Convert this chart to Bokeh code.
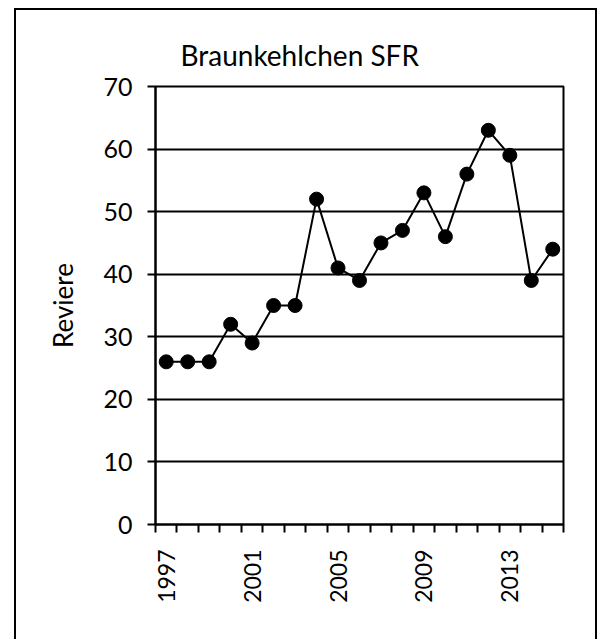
from math import pi
from bokeh.plotting import figure
from bokeh.models import Range1d, FixedTicker, InlineStyleSheet, Title
from bokeh.embed import file_html
from bokeh.resources import INLINE

# ---- data ----
years = [1997, 1998, 1999, 2000, 2001, 2002, 2003, 2004, 2005, 2006,
         2007, 2008, 2009, 2010, 2011, 2012, 2013, 2014, 2015]
reviere = [26, 26, 26, 32, 29, 35, 35, 52, 41, 39,
           45, 47, 53, 46, 56, 63, 59, 39, 44]
x_tick_labels = [1997, 2001, 2005, 2009, 2013]
y_ticks = [0, 10, 20, 30, 40, 50, 60, 70]
title_text = "Braunkehlchen SFR"
y_label = "Reviere"

FONT = "Lato"

x_lo = years[0] - 0.5
x_hi = years[-1] + 0.5

p = figure(width=597, height=639, output_backend="svg", toolbar_location=None,
           x_range=Range1d(x_lo, x_hi), y_range=Range1d(y_ticks[0], y_ticks[-1]),
           min_border_left=155, min_border_right=34,
           min_border_top=86, min_border_bottom=115)

p.background_fill_color = "white"
p.border_fill_color = "white"
p.outline_line_color = "black"
p.outline_line_width = 2

# outer chart border drawn on top of the canvas via CSS
p.stylesheets = [InlineStyleSheet(css="""
:host::after {
  content: "";
  position: absolute;
  left: 14px;
  top: 8px;
  width: 579px;
  height: 630px;
  border: 2px solid black;
  box-sizing: content-box;
  pointer-events: none;
  z-index: 10;
}
""")]

# title
p.title.text = title_text
p.title.align = "left"
p.title.offset = 25
p.title.standoff = 29
p.title.text_font = FONT
p.title.text_font_size = "28px"
p.title.text_font_style = "normal"
p.title.text_color = "black"

# grid
p.xgrid.visible = False
p.ygrid.grid_line_color = "black"
p.ygrid.grid_line_width = 2
p.ygrid.grid_line_alpha = 1.0

# x axis: labels at category centers, tick marks between categories
xa = p.xaxis[0]
boundaries = [y - 0.5 for y in years] + [years[-1] + 0.5]
xa.ticker = FixedTicker(ticks=x_tick_labels, minor_ticks=boundaries)
xa.major_label_overrides = {t: str(t) for t in x_tick_labels}
xa.major_tick_out = 0
xa.major_tick_in = 0
xa.minor_tick_out = 8
xa.minor_tick_in = 0
xa.minor_tick_line_color = "black"
xa.minor_tick_line_width = 2
xa.axis_line_color = "black"
xa.axis_line_width = 2
xa.major_label_orientation = pi / 2
xa.major_label_standoff = 17
xa.major_label_text_font = FONT
xa.major_label_text_font_size = "23px"
xa.major_label_text_color = "black"

# y axis
ya = p.yaxis[0]
ya.ticker = FixedTicker(ticks=y_ticks, minor_ticks=[])
ya.major_tick_out = 8
ya.major_tick_in = 0
ya.major_tick_line_color = "black"
ya.major_tick_line_width = 2
ya.minor_tick_out = 0
ya.minor_tick_in = 0
ya.axis_line_color = "black"
ya.axis_line_width = 2
ya.major_label_standoff = 15
ya.major_label_text_font = FONT
ya.major_label_text_font_size = "25px"
ya.major_label_text_color = "black"

# y axis title (as a side title so it can be shifted along the axis)
p.add_layout(Title(text=y_label, align="center", offset=14, standoff=43,
                   text_font=FONT, text_font_size="26px", text_font_style="normal",
                   text_color="black"), "left")

# series
p.line(years, reviere, line_color="black", line_width=2)
p.scatter(years, reviere, size=14, fill_color="black", line_color="black")

open("out.html", "w").write(file_html(p, INLINE))
